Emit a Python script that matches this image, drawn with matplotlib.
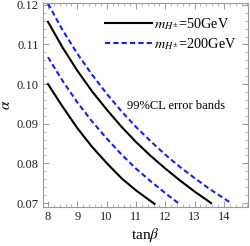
import numpy as np
import matplotlib
matplotlib.use('Agg')
import matplotlib.pyplot as plt
from matplotlib.ticker import MultipleLocator

plt.rcParams['font.family'] = 'Liberation Serif'
plt.rcParams['mathtext.fontset'] = 'stix'

# curves (tan beta, alpha)
tb_b1 = [8.0, 8.5, 9.0, 9.5, 10.0, 10.5, 11.0, 11.63]
al_b1 = [0.1000, 0.0943, 0.0889, 0.0842, 0.0801, 0.0763, 0.0732, 0.0698]
tb_b2 = [8.0, 8.5, 9.0, 9.5, 10.0, 10.5, 11.0, 11.5, 12.0, 12.5, 13.0, 13.56]
al_b2 = [0.1157, 0.1092, 0.1034, 0.0982, 0.0936, 0.0893, 0.0854, 0.0819, 0.0787, 0.0757, 0.0729, 0.0700]
tb_u1 = [8.0, 8.5, 9.0, 9.5, 10.0, 10.5, 11.0, 11.5, 12.0, 12.44]
al_u1 = [0.1068, 0.1008, 0.0954, 0.0906, 0.0863, 0.0823, 0.0787, 0.0755, 0.0725, 0.0700]
tb_u2 = [8.0, 8.5, 9.0, 9.5, 10.0, 10.5, 11.0, 11.5, 12.0, 12.5, 13.0, 13.5, 14.2]
al_u2 = [0.1203, 0.1136, 0.1077, 0.1024, 0.0976, 0.0932, 0.0892, 0.0856, 0.0822, 0.0791, 0.0763, 0.0736, 0.0702]

lab50 = r'$m_{H^{\pm}}$=50GeV'
lab200 = r'$m_{H^{\pm}}$=200GeV'
note = '99%CL error bands'

fig = plt.figure(figsize=(2.5, 2.46), dpi=100)
ax = fig.add_axes([0.172, 0.1585, 0.82, 0.83])

ax.plot(tb_b1, al_b1, color='black', lw=1.5, label=lab50)
ax.plot(tb_b2, al_b2, color='black', lw=1.5)
ax.plot(tb_u1, al_u1, color='#1a1aff', lw=1.5, ls=(0, (2.5, 1.5)), label=lab200)
ax.plot(tb_u2, al_u2, color='#1a1aff', lw=1.5, ls=(0, (2.5, 1.5)))

ax.set_xlim(7.83, 14.82)
ax.set_ylim(0.069, 0.1205)
ax.xaxis.set_major_locator(MultipleLocator(1))
ax.xaxis.set_minor_locator(MultipleLocator(0.2))
ax.yaxis.set_major_locator(MultipleLocator(0.01))
ax.yaxis.set_minor_locator(MultipleLocator(0.002))
ax.yaxis.set_major_formatter(matplotlib.ticker.FormatStrFormatter('%.2f'))

for s in ax.spines.values():
    s.set_color('#999999')
    s.set_linewidth(0.8)
ax.tick_params(which='both', direction='in', top=True, right=True, color='#999999',
               labelsize=9, labelcolor='#222222', pad=3)
ax.tick_params(which='major', length=4, width=0.7)
ax.tick_params(which='minor', length=2, width=0.5)

ax.set_xlabel(r'tan$\beta$', fontsize=11, labelpad=2)
ax.set_ylabel(r'$\alpha$', fontsize=11, labelpad=3)

ax.legend(loc='upper left', bbox_to_anchor=(0.30, 0.935), frameon=False, fontsize=10.3,
          handlelength=3.3, handletextpad=0.15, labelspacing=0.3, borderpad=0,
          borderaxespad=0)
ax.text(12.37, 0.0946, note, fontsize=9, ha='center', va='center')

fig.savefig('out.png', dpi=100)
